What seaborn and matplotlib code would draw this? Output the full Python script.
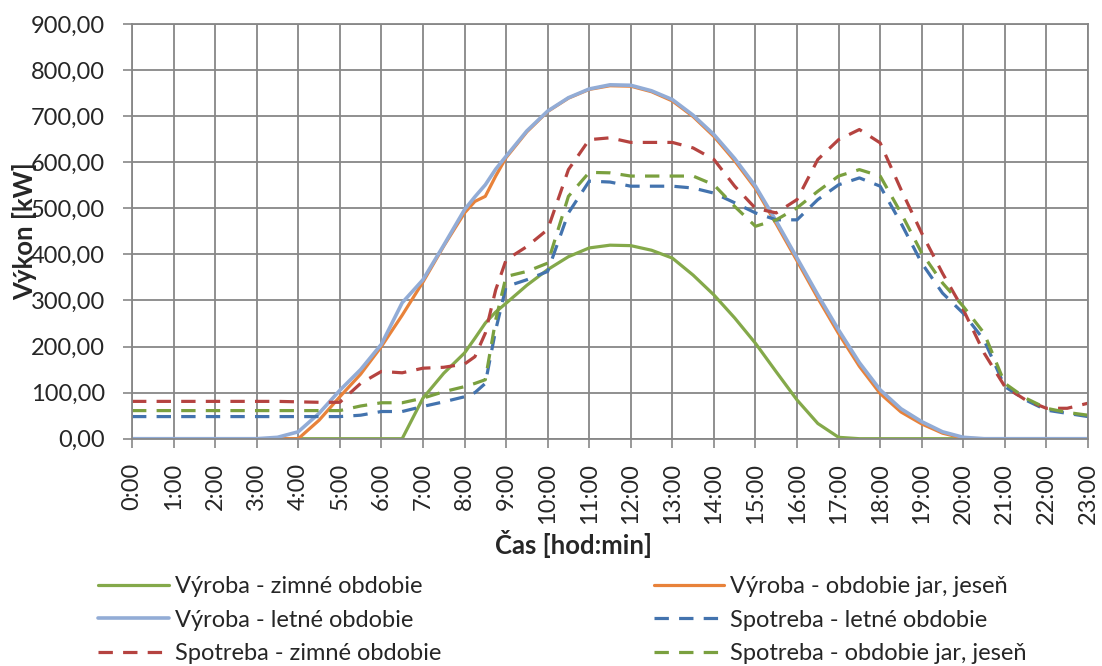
import matplotlib
matplotlib.use("Agg")
import matplotlib.pyplot as plt
import seaborn as sns
from matplotlib.ticker import FuncFormatter, MultipleLocator

# ---- data -------------------------------------------------------------
times = [0, 0.5, 1, 1.5, 2, 2.5, 3, 3.5, 4, 4.5, 5, 5.5, 6, 6.5, 7, 7.5, 8,
         8.25, 8.5, 8.75, 9, 9.5, 10, 10.5, 11, 11.5, 12, 12.5, 13, 13.5, 14,
         14.5, 15, 15.5, 16, 16.5, 17, 17.5, 18, 18.5, 19, 19.5, 20, 20.5, 21,
         21.5, 22, 22.5, 23]

vyroba_zima = [0, 0, 0, 0, 0, 0, 0, 0, 0, 0, 0, 0, 0, 0, 88, 142, 186,
               218, 251, 275, 294, 333, 367, 395, 414, 420, 419, 409, 392, 355, 312,
               262, 207, 145, 84, 33, 3, 0, 0, 0, 0, 0, 0, 0, 0,
               0, 0, 0, 0]

vyroba_jar = [0, 0, 0, 0, 0, 0, 0, 0, 0, 40, 91, 140, 200, 268, 340, 418, 490,
              515, 526, 570, 610, 666, 710, 739, 758, 766, 765, 753, 733, 699, 656,
              603, 543, 466, 386, 305, 228, 157, 98, 58, 32, 12, 1, 0, 0,
              0, 0, 0, 0]

vyroba_leto = [0, 0, 0, 0, 0, 0, 0, 3, 15, 55, 105, 150, 205, 295, 345, 420, 497,
               525, 551, 585, 613, 668, 711, 740, 759, 768, 767, 755, 736, 702, 660,
               608, 548, 472, 392, 312, 236, 165, 106, 65, 37, 15, 3, 0, 0,
               0, 0, 0, 0]

spotreba_leto = [48, 48, 48, 48, 48, 48, 48, 48, 48, 48, 48, 51, 59, 59, 70, 80, 91,
                 100, 120, 236, 330, 345, 363, 490, 559, 557, 548, 548, 548, 544, 533,
                 512, 490, 475, 475, 519, 551, 566, 548, 468, 381, 316, 272, 214, 113,
                 84, 62, 55, 48]

spotreba_zima = [81, 81, 81, 81, 81, 81, 81, 81, 80, 79, 79, 120, 146, 143, 153, 155, 162,
                 178, 229, 323, 388, 417, 454, 584, 649, 653, 643, 643, 643, 631, 606,
                 548, 500, 490, 519, 606, 649, 671, 642, 541, 446, 359, 280, 186, 113,
                 84, 66, 66, 77]

spotreba_jar = [61, 61, 61, 61, 61, 61, 61, 61, 61, 61, 61, 71, 78, 78, 88, 102, 113,
                120, 128, 258, 352, 363, 381, 526, 578, 577, 570, 570, 570, 570, 551,
                504, 461, 475, 501, 537, 570, 584, 570, 490, 403, 338, 287, 229, 120,
                88, 66, 57, 51]

tick_labels = [f"{h}:00" for h in range(24)]

labels = ["Výroba - zimné obdobie", "Výroba - obdobie jar, jeseň",
          "Výroba - letné obdobie", "Spotreba - letné obdobie",
          "Spotreba - zimné obdobie", "Spotreba - obdobie jar, jeseň"]

# ---- style ------------------------------------------------------------
sns.set_style("white")
plt.rcParams['font.family'] = ['Lato', 'DejaVu Sans']
FS = 17
FS_LABEL = 18.5
GRID = '#878787'

fig = plt.figure(figsize=(11.02, 6.66), dpi=100)
ax = fig.add_axes([132 / 1102, 1 - 438.7 / 666, (1088 - 132) / 1102, (438.7 - 24) / 666])

dash = (0, (4.5, 3.2))
series = [
    (vyroba_zima, labels[0], '#84A94A', '-', 2.3),
    (vyroba_jar, labels[1], '#E8823A', '-', 2.3),
    (vyroba_leto, labels[2], '#92ACD6', '-', 2.6),
    (spotreba_leto, labels[3], '#4373AE', dash, 2.3),
    (spotreba_zima, labels[4], '#B54340', dash, 2.3),
    (spotreba_jar, labels[5], '#7AA03F', dash, 2.3),
]
handles = {}
for vals, lab, col, ls, lw in series:
    sns.lineplot(x=times, y=vals, ax=ax, color=col, linestyle=ls, linewidth=lw,
                 label=lab, legend=False)
    handles[lab] = ax.get_lines()[-1]

ax.set_xlim(0, 23)
ax.set_ylim(0, 900)
ax.set_xticks(range(24))
ax.set_xticklabels(tick_labels, rotation=90, fontsize=FS)
ax.yaxis.set_major_locator(MultipleLocator(100))
ax.yaxis.set_major_formatter(FuncFormatter(lambda v, p: f"{v:.2f}".replace('.', ',')))
ax.tick_params(axis='y', labelsize=FS, length=6.5, width=1.2, color=GRID, pad=13,
               direction='out', left=True)
ax.tick_params(axis='x', labelsize=FS, length=6.5, width=1.2, color=GRID, pad=11,
               direction='out', bottom=True)
ax.grid(True, color=GRID, linewidth=1.3)
ax.set_axisbelow(True)
for s in ax.spines.values():
    s.set_color(GRID)
    s.set_linewidth(1.3)

ax.set_ylabel("Výkon [kW]", fontsize=FS_LABEL, fontweight='bold')
ax.yaxis.set_label_coords(-0.099, 0.5)
ax.set_xlabel("Čas [hod:min]", fontsize=FS_LABEL, fontweight='bold')
ax.xaxis.set_label_coords(0.462, -0.22)

order = [labels[0], labels[2], labels[4], labels[1], labels[3], labels[5]]
fig.legend([handles[l] for l in order], order, ncol=2, frameon=False,
           loc='upper left', bbox_to_anchor=(98 / 1102, 1 - 576 / 666),
           borderpad=0, borderaxespad=0,
           fontsize=FS, handlelength=3.0, handletextpad=0.25, columnspacing=9.0,
           labelspacing=0.53)

fig.savefig("out.png", dpi=100)
